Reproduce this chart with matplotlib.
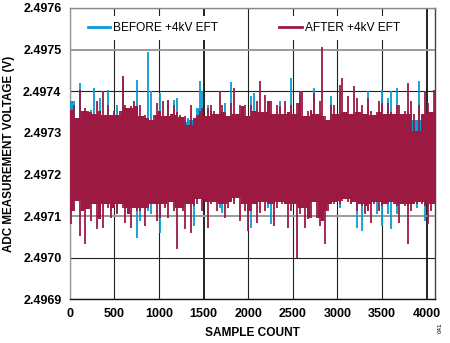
import matplotlib
matplotlib.use("Agg")
import matplotlib.pyplot as plt
import numpy as np

# envelope of the ADC readings, one high/low pair per 32-sample block
# values in microvolts above 2.4970 V
block = 32
before_hi = [376, 376, 330, 420, 335, 330, 340, 355, 408, 330, 384, 335, 330, 404, 330, 340,
             368, 330, 432, 330, 360, 335, 330, 428, 330, 335, 330, 494, 400, 330, 335, 396,
             330, 335, 376, 330, 380, 384, 330, 325, 330, 335, 330, 330, 360, 424, 400, 330,
             368, 330, 335, 330, 330, 335, 372, 330, 422, 330, 335, 330, 330, 335, 330, 388,
             396, 330, 335, 330, 330, 335, 330, 330, 335, 376, 330, 335, 330, 432, 330, 330,
             392, 335, 330, 330, 335, 408, 330, 330, 335, 330, 330, 388, 330, 335, 400, 330,
             330, 335, 330, 330, 335, 330, 330, 335, 400, 330, 330, 335, 330, 404, 330, 384,
             400, 330, 408, 330, 335, 330, 330, 335, 330, 330, 424, 330, 335, 330, 330, 335]
before_lo = [150, 112, 155, 150, 145, 150, 155, 150, 145, 150, 112, 150, 155, 150, 112, 150,
             108, 150, 155, 150, 145, 150, 155, 48, 88, 150, 155, 112, 104, 150, 145, 60,
             150, 155, 150, 145, 150, 155, 150, 145, 150, 155, 150, 76, 150, 155, 150, 140,
             150, 155, 150, 145, 120, 108, 150, 145, 150, 136, 150, 155, 150, 145, 150, 72,
             150, 155, 150, 145, 150, 120, 80, 155, 150, 145, 150, 155, 150, 145, 150, 155,
             150, 145, 150, 155, 150, 145, 150, 155, 150, 145, 150, 155, 150, 145, 120, 155,
             150, 145, 128, 155, 72, 145, 64, 155, 150, 145, 150, 104, 150, 76, 150, 104,
             68, 145, 104, 155, 150, 145, 150, 155, 150, 120, 150, 145, 88, 155, 150, 145]
after_hi = [356, 368, 336, 404, 352, 360, 352, 350, 345, 376, 352, 400, 344, 368, 344, 352,
            344, 352, 436, 368, 360, 364, 376, 364, 368, 340, 344, 335, 330, 344, 372, 352,
            376, 340, 380, 345, 368, 350, 344, 338, 340, 320, 368, 335, 344, 352, 360, 340,
            360, 368, 352, 345, 400, 368, 350, 340, 372, 408, 345, 368, 364, 368, 340, 368,
            352, 376, 424, 350, 392, 376, 376, 345, 368, 364, 345, 376, 350, 368, 345, 372,
            400, 400, 340, 352, 356, 396, 345, 376, 506, 340, 332, 368, 368, 345, 416, 432,
            350, 388, 345, 412, 384, 350, 368, 345, 384, 352, 344, 350, 376, 372, 345, 372,
            350, 345, 368, 368, 345, 352, 420, 376, 345, 304, 368, 345, 400, 372, 350, 404]
after_lo = [80, 112, 136, 52, 112, 34, 116, 88, 128, 68, 92, 72, 128, 120, 96, 120,
            104, 128, 120, 84, 104, 72, 120, 112, 112, 120, 76, 120, 130, 128, 88, 96,
            130, 120, 96, 135, 112, 22, 120, 112, 68, 130, 60, 125, 128, 140, 112, 135,
            72, 128, 135, 112, 128, 130, 96, 120, 135, 130, 144, 88, 130, 112, 64, 112,
            128, 84, 108, 135, 112, 130, 128, 76, 120, 135, 128, 130, 72, 112, 130, 0,
            104, 120, 72, 92, 96, 135, 96, 76, 88, 32, 112, 130, 128, 135, 128, 136,
            140, 135, 130, 135, 112, 130, 125, 104, 112, 84, 130, 135, 112, 125, 130, 128,
            135, 130, 125, 84, 130, 125, 34, 112, 130, 128, 135, 130, 125, 80, 112, 130]

base = 2.4970
yticks = [2.4969, 2.4970, 2.4971, 2.4972, 2.4973, 2.4974, 2.4975, 2.4976]
xticks = [0, 500, 1000, 1500, 2000, 2500, 3000, 3500, 4000]

blue = '#0b9bd6'
red = '#9c1a41'


def to_volts(vals):
    return base + np.array(vals) * 1e-6


def core(hi, lo):
    # solid body of the trace: the lowest top / highest bottom of each block and its neighbours
    h = np.array(hi, dtype=float)
    l = np.array(lo, dtype=float)
    hp = np.pad(h, 1, mode='edge')
    lp = np.pad(l, 1, mode='edge')
    top = np.minimum(np.minimum(hp[:-2], hp[1:-1]), hp[2:])
    bot = np.maximum(np.maximum(lp[:-2], lp[1:-1]), lp[2:])
    return to_volts(top), to_volts(bot)


plt.rcParams['font.family'] = ['Liberation Sans', 'DejaVu Sans']
fig = plt.figure(figsize=(4.5, 3.43), dpi=100)
ax = fig.add_axes([0.155, 0.127, 0.812, 0.85])

edges = np.arange(len(after_hi) + 1) * block
centers = edges[:-1] + block / 2

for hi, lo, col, z in ((before_hi, before_lo, blue, 3), (after_hi, after_lo, red, 4)):
    top, bot = core(hi, lo)
    ax.stairs(top, edges, baseline=bot, fill=True, color=col, lw=0, zorder=z)
    ax.vlines(centers, to_volts(lo), to_volts(hi), color=col, lw=1.3, zorder=z)

l1, = ax.plot([], [], color=blue, lw=2, label='BEFORE +4kV EFT')
l2, = ax.plot([], [], color=red, lw=2, label='AFTER +4kV EFT')

ax.set_xlim(0, 4096)
ax.set_ylim(2.4969, 2.4976)
ax.set_xticks(xticks)
ax.set_yticks(yticks)
ax.set_yticklabels([f'{v:.4f}' for v in yticks])
ax.tick_params(length=0, labelsize=9, pad=6)
for lab in ax.get_xticklabels() + ax.get_yticklabels():
    lab.set_fontweight('bold')

ax.grid(True, color='#222222', lw=0.8, zorder=1)
# the 2.4971 and 2.4975 rules are grey in the original
for i, gl in enumerate(ax.yaxis.get_gridlines()):
    if yticks[i] in (2.4971, 2.4975):
        gl.set_color('#9a9a9a')
        gl.set_linewidth(1.4)
for i, gl in enumerate(ax.xaxis.get_gridlines()):
    if xticks[i] in (1500, 4000):
        gl.set_linewidth(1.3)
        gl.set_color('#111111')

ax.spines['left'].set_color('#999999')
ax.spines['top'].set_color('#888888')
ax.spines['right'].set_color('#444444')
ax.spines['bottom'].set_color('#111111')
for s in ax.spines.values():
    s.set_linewidth(1.0)

ax.set_xlabel('SAMPLE COUNT', fontsize=8.6, fontweight='bold', labelpad=5)
ax.set_ylabel('ADC MEASUREMENT VOLTAGE (V)', fontsize=8.4, fontweight='bold', labelpad=6)

for handle, cx in ((l1, 0.228), (l2, 0.739)):
    leg = ax.legend(handles=[handle], loc='center', bbox_to_anchor=(cx, 0.931), frameon=True,
                    fancybox=False, edgecolor='none', facecolor='white', framealpha=1,
                    fontsize=8.6, handlelength=1.9, handletextpad=0.25, borderpad=0.5)
    leg.set_zorder(5)
    ax.add_artist(leg)

fig.text(0.978, 0.045, '041', rotation=90, fontsize=4.5, ha='center', va='center')

fig.savefig('out.png', dpi=100)
